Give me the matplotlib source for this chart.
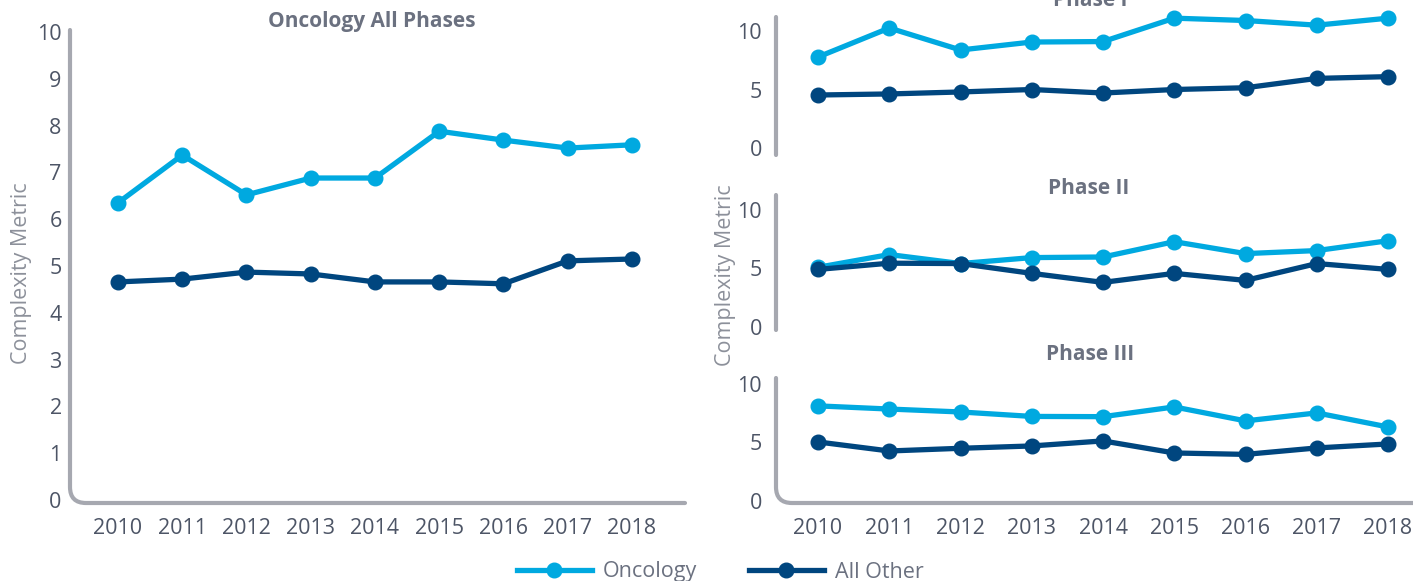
import matplotlib
matplotlib.use("Agg")
import matplotlib.pyplot as plt
from matplotlib.path import Path
from matplotlib.patches import PathPatch
from matplotlib.lines import Line2D
import numpy as np

plt.rcParams['font.family'] = ['Open Sans', 'DejaVu Sans']

years = [2010, 2011, 2012, 2013, 2014, 2015, 2016, 2017, 2018]

all_onc = [6.35, 7.37, 6.52, 6.88, 6.88, 7.88, 7.69, 7.52, 7.59]
all_oth = [4.66, 4.72, 4.87, 4.83, 4.66, 4.66, 4.62, 5.11, 5.15]

p1_onc = [7.78, 10.26, 8.38, 9.06, 9.10, 11.1, 10.9, 10.5, 11.1]
p1_oth = [4.53, 4.62, 4.79, 5.00, 4.70, 5.00, 5.15, 5.95, 6.10]

p2_onc = [5.10, 6.19, 5.42, 5.93, 5.98, 7.29, 6.27, 6.53, 7.37]
p2_oth = [4.92, 5.45, 5.42, 4.58, 3.81, 4.58, 3.98, 5.42, 4.92]

p3_onc = [8.12, 7.85, 7.60, 7.22, 7.20, 8.03, 6.84, 7.52, 6.32]
p3_oth = [5.04, 4.27, 4.50, 4.70, 5.13, 4.10, 3.98, 4.53, 4.87]

series_names = ["Oncology", "All Other"]
titles = ["Oncology All Phases", "Phase I", "Phase II", "Phase III"]

C_ONC = "#00a9e0"
C_OTH = "#00467f"
C_SPINE = "#a6a8b0"
C_TICK = "#4d5566"
C_TITLE = "#6b7180"
C_LABEL = "#8c909a"

FS = 15.5

W, H = 1413, 581
fig = plt.figure(figsize=(W / 100, H / 100), dpi=100)


def add_axes_px(left, top, right, bottom):
    return fig.add_axes([left / W, (H - bottom) / H, (right - left) / W, (bottom - top) / H])


def draw_spine(ax, bottom_axis=True, radius=16):
    pos = ax.get_position()
    x0 = pos.x0 * W
    x1 = pos.x1 * W
    y0 = pos.y0 * H
    y1 = pos.y1 * H
    if bottom_axis:
        verts = [(x0, y1), (x0, y0 + radius), (x0, y0), (x0 + radius, y0), (x1, y0)]
        codes = [Path.MOVETO, Path.LINETO, Path.CURVE3, Path.CURVE3, Path.LINETO]
    else:
        verts = [(x0, y1), (x0, y0)]
        codes = [Path.MOVETO, Path.LINETO]
    verts = [(vx / 100, vy / 100) for vx, vy in verts]
    patch = PathPatch(Path(verts, codes), facecolor='none', edgecolor=C_SPINE,
                      linewidth=3.0, capstyle='round', joinstyle='round',
                      transform=fig.dpi_scale_trans, clip_on=False)
    fig.add_artist(patch)


def style(ax, xlim, ylim, yticks, show_x, ypad):
    for s in ax.spines.values():
        s.set_visible(False)
    ax.set_xlim(*xlim)
    ax.set_ylim(*ylim)
    ax.set_yticks(yticks)
    ax.tick_params(axis='y', length=0, labelsize=FS, labelcolor=C_TICK, pad=ypad)
    ax.set_xticks(years)
    if show_x:
        ax.tick_params(axis='x', length=0, labelsize=FS, labelcolor=C_TICK, pad=10.5)
    else:
        ax.tick_params(axis='x', length=0, labelbottom=False)
    ax.patch.set_alpha(0)


def plot_lines(ax, onc, oth):
    ax.plot(years, onc, color=C_ONC, lw=3.8, marker='o', ms=10.5, clip_on=False, zorder=3)
    ax.plot(years, oth, color=C_OTH, lw=3.8, marker='o', ms=10.5, clip_on=False, zorder=3)


# Left panel
axL = add_axes_px(70, 30, 685, 503)
plot_lines(axL, all_onc, all_oth)
style(axL, (2009.253, 2018.825), (-0.064, 10.043), range(0, 11), True, 6)
draw_spine(axL, True)
fig.text(372 / W, (H - 22) / H, titles[0], ha='center', va='center',
         fontsize=15, fontweight='bold', color=C_TITLE)
fig.text(22 / W, (H - 273) / H, "Complexity Metric", rotation=90, ha='center', va='center',
         fontsize=FS, color=C_LABEL)

# Right panels
xr = (2009.41, 2018.35)
ax1 = add_axes_px(776, 17, 1413, 155)
plot_lines(ax1, p1_onc, p1_oth)
style(ax1, xr, (-0.6, 11.2), [0, 5, 10], False, 10)
draw_spine(ax1, False)

ax2 = add_axes_px(776, 195, 1413, 330)
plot_lines(ax2, p2_onc, p2_oth)
style(ax2, xr, (-0.26, 11.28), [0, 5, 10], False, 10)
draw_spine(ax2, False)

ax3 = add_axes_px(776, 378, 1413, 503)
plot_lines(ax3, p3_onc, p3_oth)
style(ax3, xr, (-0.17, 10.5), [0, 5, 10], True, 10)
draw_spine(ax3, True)

fig.text(1090 / W, (H - 0) / H, titles[1], ha='center', va='center',
         fontsize=15, fontweight='bold', color=C_TITLE)
fig.text(1089 / W, (H - 188) / H, titles[2], ha='center', va='center',
         fontsize=15, fontweight='bold', color=C_TITLE)
fig.text(1090 / W, (H - 354) / H, titles[3], ha='center', va='center',
         fontsize=15, fontweight='bold', color=C_TITLE)
fig.text(725 / W, (H - 275) / H, "Complexity Metric", rotation=90, ha='center', va='center',
         fontsize=FS, color=C_LABEL)

handles = [Line2D([], [], color=C_ONC, lw=3.8, marker='o', ms=10.5),
           Line2D([], [], color=C_OTH, lw=3.8, marker='o', ms=10.5)]
leg = fig.legend(handles, series_names, loc='center', bbox_to_anchor=(720 / W, (H - 572) / H),
                 ncol=2, frameon=False, fontsize=FS, handlelength=3.5, columnspacing=2.4,
                 handletextpad=0.5, borderpad=0)
for t in leg.get_texts():
    t.set_color(C_TITLE)

fig.savefig("out.png", dpi=100)
